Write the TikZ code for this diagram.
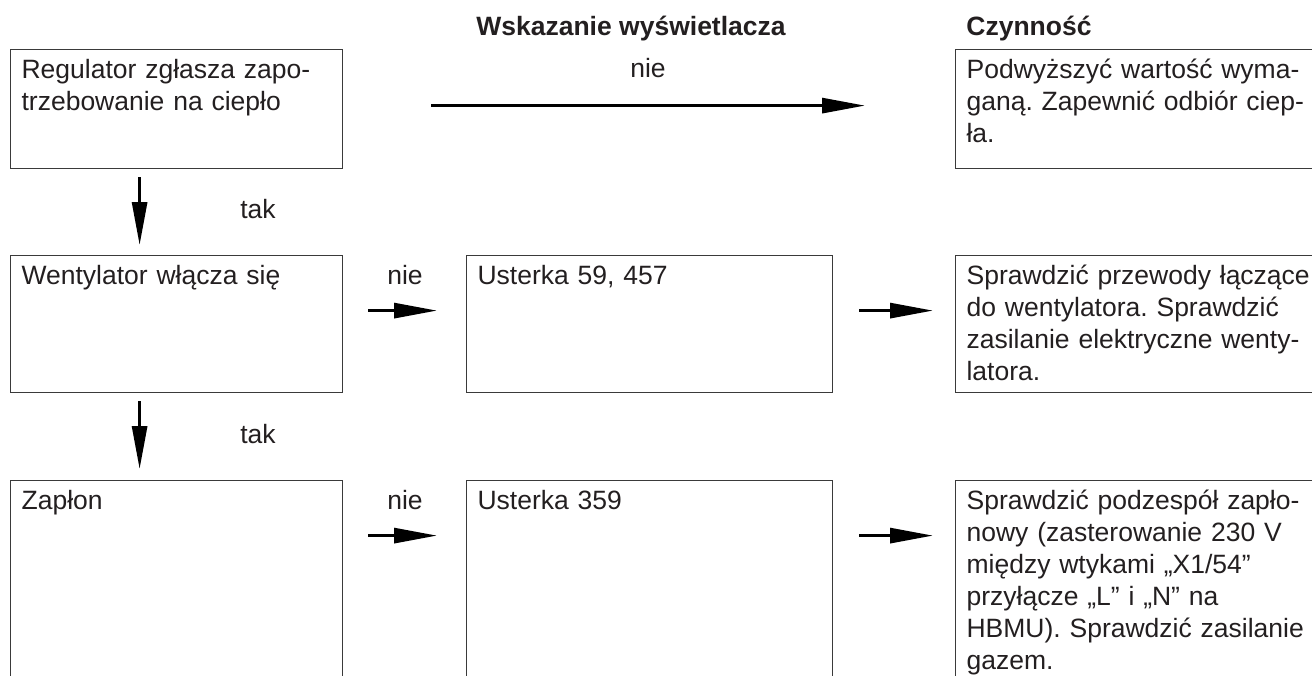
\documentclass[tikz,border=0pt]{standalone}
\usepackage{fontspec}
\setmainfont{Liberation Sans}
\frenchspacing
\usetikzlibrary{arrows.meta,positioning}
\definecolor{ink}{HTML}{231F20}
\definecolor{rule}{HTML}{3A3A3A}
\tikzset{
  arr/.style={-{Triangle[length=21.5pt,width=7.5pt]}, line width=1.5pt, draw=black},
  figbase/.style={
    font=\fontsize{13.25pt}{16pt}\selectfont,
    color=ink,
    x=0.5pt, y=-0.5pt,
  },
  box/.style={
    draw=rule, line width=0.6pt,
    anchor=north west,
    align=left,
    inner xsep=5.5pt, inner ysep=0pt,
    text height=14.5pt,
    text=ink,
  },
  boxleft/.style={box, text width=155pt},
  boxmid/.style={box, text width=172pt},
  boxact/.style={box, text width=200pt},
  rowone/.style={text depth=45pt},
  rowtwo/.style={text depth=54pt},
  rowthree/.style={text depth=95.5pt},
  lab/.style={anchor=base, inner sep=0pt, text=ink},
  head/.style={font=\fontsize{13.25pt}{16pt}\bfseries\selectfont, anchor=base, inner sep=0pt, text=ink},
}
\begin{document}
\begin{tikzpicture}[figbase]
  \useasboundingbox (0,0) rectangle (1312,675);
  \clip (0,0) rectangle (1312,675);

  \node[head] (hdisp) at (631,35) {Wskazanie wyświetlacza};
  \node[head, anchor=base west] (hact) at (966,35) {Czynność};

  % first row
  \node[boxleft, rowone] (reg) at (10,49) {Regulator zgłasza zapo-\\trzebowanie na ciepło};
  \node[boxact, rowone] (act1) at (955,49) {Podwyższyć wartość wyma-\\ganą. Zapewnić odbiór ciep-\\ła.};
  \draw[arr, shorten <=44pt, shorten >=45pt] ([yshift=1.75pt]reg.east) -- ([yshift=1.75pt]act1.west);
  \node[lab] (nie1) at (648,77) {nie};

  % second row
  \node[boxleft, rowtwo] (fan) at (10,255) {Wentylator włącza się};
  \node[boxmid, rowtwo] (err1) at (466,255) {Usterka 59, 457};
  \node[boxact, rowtwo] (act2) at (955,255)
    {Sprawdzić przewody łączące\\do wentylatora. Sprawdzić\\zasilanie elektryczne wenty-\\latora.};
  \draw[arr, shorten <=4pt, shorten >=5pt] ([xshift=-18.5pt]reg.south) -- ([xshift=-18.5pt]fan.north);
  \node[lab] (tak1) at (258,218) {tak};
  \draw[arr, shorten <=12.5pt, shorten >=14.5pt] ([yshift=6.75pt]fan.east) -- ([yshift=6.75pt]err1.west);
  \draw[arr, shorten <=13pt, shorten >=11pt] ([yshift=6.75pt]err1.east) -- ([yshift=6.75pt]act2.west);
  \node[lab] (nie2) at (405,284) {nie};

  % third row
  \node[boxleft, rowthree] (ign) at (10,480) {Zapłon};
  \node[boxmid, rowthree] (err2) at (466,480) {Usterka 359};
  \node[boxact, rowthree] (act3) at (955,480)
    {Sprawdzić podzespół zapło-\\nowy (zasterowanie 230 V\\między wtykami „X1/54”\\przyłącze „L” i „N” na\\HBMU). Sprawdzić zasilanie\\gazem.};
  \draw[arr, shorten <=4pt, shorten >=5.5pt] ([xshift=-18.5pt]fan.south) -- ([xshift=-18.5pt]ign.north);
  \node[lab] (tak2) at (258,443) {tak};
  \draw[arr, shorten <=12.5pt, shorten >=14.5pt] ([yshift=27.5pt]ign.east) -- ([yshift=27.5pt]err2.west);
  \draw[arr, shorten <=13pt, shorten >=11pt] ([yshift=27.5pt]err2.east) -- ([yshift=27.5pt]act3.west);
  \node[lab] (nie3) at (405,509) {nie};
\end{tikzpicture}
\end{document}
